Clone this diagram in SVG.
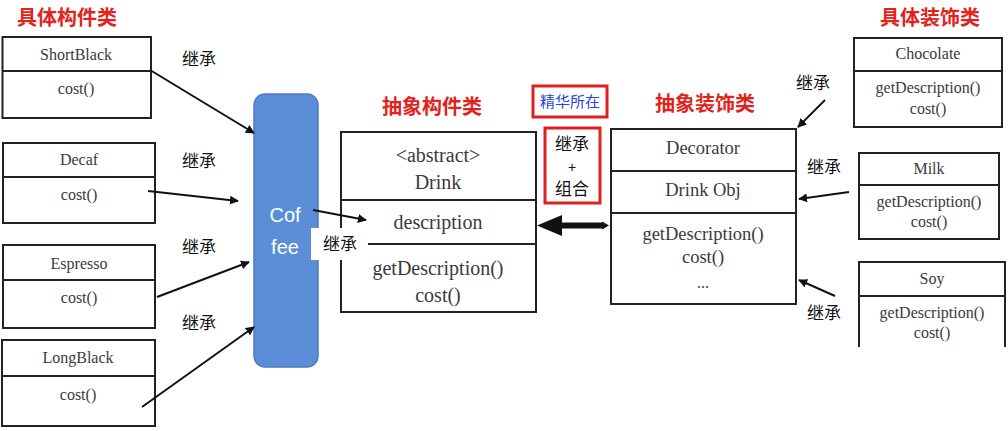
<svg xmlns="http://www.w3.org/2000/svg" width="1008" height="431" viewBox="0 0 1008 431">
<defs>
<marker id="ah" viewBox="0 0 10 10" refX="9" refY="5" markerWidth="9" markerHeight="9" markerUnits="userSpaceOnUse" orient="auto">
<path d="M0,0 L10,5 L0,10 z" fill="#111"/>
</marker>
</defs>
<style>
.box{fill:#fff;stroke:#222;stroke-width:2}
.ln{stroke:#222;stroke-width:2;fill:none}
.t{font-family:"Liberation Serif","DejaVu Serif",serif;fill:#3a3a3a;text-anchor:middle}
.s16{font-size:16px}
.s18{font-size:18.5px}
.s20{font-size:20px}
.title{font-family:"Noto Sans CJK SC","Noto Sans",sans-serif;font-size:20px;font-weight:bold;fill:#e3221b}
.cn{font-family:"Noto Sans CJK SC","Noto Sans",sans-serif;font-size:17px;fill:#111;text-anchor:middle}
.arr{stroke:#111;stroke-width:2;fill:none;marker-end:url(#ah)}
.red{fill:#fff;stroke:#e0201c;stroke-width:3}
</style>
<rect width="1008" height="431" fill="#fff"/>

<text class="title" x="17" y="25">具体构件类</text>
<text class="title" x="382" y="114">抽象构件类</text>
<text class="title" x="655" y="111">抽象装饰类</text>
<text class="title" x="880" y="25">具体装饰类</text>

<g id="shortblack">
<rect class="box" x="2.5" y="37" width="148.5" height="81"/>
<line class="ln" x1="2.5" y1="71" x2="151" y2="71"/>
<text class="t s16" x="76" y="60">ShortBlack</text>
<text class="t s16" x="76" y="94">cost()</text>
</g>
<g id="decaf">
<rect class="box" x="3" y="143" width="152" height="80"/>
<line class="ln" x1="3" y1="177" x2="155" y2="177"/>
<text class="t s16" x="79" y="165">Decaf</text>
<text class="t s16" x="79" y="200">cost()</text>
</g>
<g id="espresso">
<rect class="box" x="3" y="245" width="152" height="83"/>
<line class="ln" x1="3" y1="280" x2="155" y2="280"/>
<text class="t s16" x="79" y="269">Espresso</text>
<text class="t s16" x="79" y="303">cost()</text>
</g>
<g id="longblack">
<rect class="box" x="2" y="340" width="153" height="86"/>
<line class="ln" x1="2" y1="376" x2="155" y2="376"/>
<text class="t s16" x="78" y="363">LongBlack</text>
<text class="t s16" x="78" y="400">cost()</text>
</g>

<g id="coffee">
<rect x="254" y="94" width="64" height="273" rx="11" fill="#5b8ed6" stroke="#4a7cc2" stroke-width="1.5"/>
<text x="285" y="222" font-family="'Liberation Sans','Open Sans',sans-serif" font-size="20" fill="#fff" text-anchor="middle">Cof</text>
<text x="285" y="254" font-family="'Liberation Sans','Open Sans',sans-serif" font-size="20" fill="#fff" text-anchor="middle">fee</text>
</g>

<g id="drink">
<rect class="box" x="341" y="132" width="195" height="180"/>
<line class="ln" x1="341" y1="200" x2="536" y2="200"/>
<line class="ln" x1="341" y1="244" x2="536" y2="244"/>
<text class="t s20" x="438" y="162">&lt;abstract&gt;</text>
<text class="t s20" x="438" y="189">Drink</text>
<text class="t s20" x="438" y="229">description</text>
<text class="t s20" x="438" y="275">getDescription()</text>
<text class="t s20" x="438" y="302">cost()</text>
</g>

<g id="label-coffee">
<rect x="311" y="228" width="57" height="32" fill="#fff"/>
<text class="cn" x="340" y="250">继承</text>
</g>

<g id="decorator">
<rect class="box" x="611" y="129" width="185" height="175"/>
<line class="ln" x1="611" y1="171" x2="796" y2="171"/>
<line class="ln" x1="611" y1="213" x2="796" y2="213"/>
<text class="t s18" x="703" y="154">Decorator</text>
<text class="t s18" x="703" y="196">Drink Obj</text>
<text class="t s18" x="703" y="240">getDescription()</text>
<text class="t s18" x="703" y="263">cost()</text>
<text class="t s16" x="703" y="288">...</text>
</g>

<g id="chocolate">
<rect class="box" x="854" y="38" width="148" height="89"/>
<line class="ln" x1="854" y1="71" x2="1002" y2="71"/>
<text class="t s16" x="928" y="59">Chocolate</text>
<text class="t s16" x="928" y="93">getDescription()</text>
<text class="t s16" x="928" y="114">cost()</text>
</g>
<g id="milk">
<rect class="box" x="859" y="153" width="140" height="86"/>
<line class="ln" x1="859" y1="185" x2="999" y2="185"/>
<text class="t s16" x="929" y="174">Milk</text>
<text class="t s16" x="929" y="207">getDescription()</text>
<text class="t s16" x="929" y="227">cost()</text>
</g>
<g id="soy">
<path class="ln" d="M859,347 V262 H1005 V347"/>
<line class="ln" x1="859" y1="296" x2="1005" y2="296"/>
<text class="t s16" x="932" y="284">Soy</text>
<text class="t s16" x="932" y="318">getDescription()</text>
<text class="t s16" x="932" y="338">cost()</text>
</g>

<g id="essence">
<rect class="red" x="533" y="86" width="74" height="31"/>
<text x="570" y="107" font-family="'Noto Sans CJK SC','Noto Sans',sans-serif" font-size="15" fill="#2243e0" text-anchor="middle">精华所在</text>
</g>
<g id="inherit-compose">
<rect class="red" x="545" y="128" width="55" height="75"/>
<text class="cn" x="572" y="150" font-size="16">继承</text>
<text x="572" y="172" font-family="'Liberation Sans',sans-serif" font-size="14" fill="#111" text-anchor="middle">+</text>
<text class="cn" x="572" y="195" font-size="16">组合</text>
</g>

<g id="connectors">
<line class="arr" x1="150" y1="70" x2="254" y2="133"/>
<line class="arr" x1="148" y1="191" x2="238" y2="201"/>
<line class="arr" x1="157" y1="297" x2="249" y2="262"/>
<line class="arr" x1="142" y1="407" x2="254" y2="327"/>
<line class="arr" x1="313" y1="210" x2="366" y2="220"/>
<line class="arr" x1="825" y1="100" x2="798" y2="127"/>
<line class="arr" x1="849" y1="192" x2="799" y2="199"/>
<line class="arr" x1="835" y1="296" x2="799" y2="280"/>
<line x1="560" y1="225.5" x2="604" y2="225.5" stroke="#111" stroke-width="6"/>
<path d="M537,225.5 L562,215 L562,236 z" fill="#111"/>
<path d="M602,221.5 L609,225.5 L602,229.5 z" fill="#111"/>
<text class="cn" x="199" y="65">继承</text>
<text class="cn" x="199" y="167">继承</text>
<text class="cn" x="199" y="253">继承</text>
<text class="cn" x="199" y="329">继承</text>
<text class="cn" x="813" y="89">继承</text>
<text class="cn" x="824" y="173">继承</text>
<text class="cn" x="824" y="319">继承</text>
</g>
</svg>
